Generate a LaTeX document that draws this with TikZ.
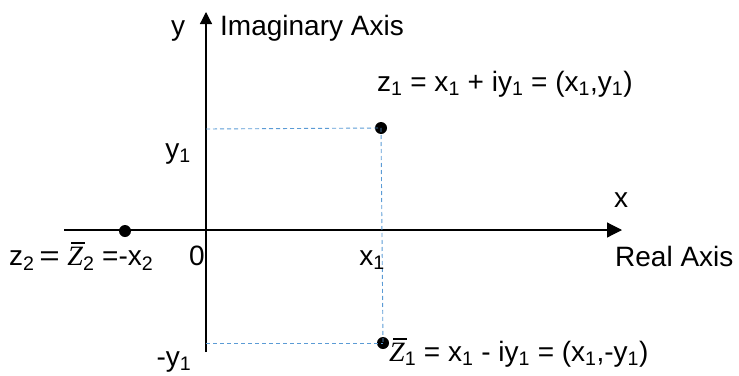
\documentclass[tikz,border=0pt]{standalone}
\usepackage{fontspec}
\setmainfont{Liberation Sans}
\newfontfamily\zfont{Liberation Serif}
\usepackage{xcolor}
\usetikzlibrary{arrows.meta}
\definecolor{dashblue}{RGB}{91,155,213}

\newcommand{\sub}[1]{\textsubscript{#1}}
\newcommand{\zbar}{\makebox[0pt][l]{\hspace{0.14em}\rule[0.76em]{0.5em}{0.05em}}{\zfont\itshape Z}}

\begin{document}
\begin{tikzpicture}[x=1pt,y=-1pt,
  lbl/.style={inner sep=0pt,font=\fontsize{28}{33}\selectfont},
  pt/.style={fill=black,circle,inner sep=0pt,minimum size=12pt},
  axis/.style={line width=1.2pt},
  proj/.style={dashblue,line width=0.9pt,dash pattern=on 4pt off 3pt}]
  \useasboundingbox (0,0) rectangle (739,375);
  % axes
  \coordinate (xs) at (64,230);
  \coordinate (xe) at (622,230);
  \coordinate (ys) at (206,352);
  \coordinate (ye) at (206,12);
  \draw[axis,-{Triangle[length=15pt,width=15pt]}] (xs) -- (xe);
  \draw[axis,-{Triangle[length=12pt,width=12pt]}] (ys) -- (ye);
  % points
  \node[pt] (z1) at (381,128) {};
  \node[pt] (z1c) at (383,343) {};
  \node[pt] (z2) at (125,231) {};
  \coordinate (y1) at (206,129);
  \coordinate (my1) at (206,343);
  \draw[proj] (y1) -- (z1.center);
  \draw[proj] (z1.center) -- (z1c.center);
  \draw[proj] (my1) -- (z1c.center);
  % labels
  \node[lbl,anchor=base] (ylab) at (178,35) {y};
  \node[lbl,anchor=base west] (imag) at (220,35) {Imaginary Axis};
  \node[lbl,anchor=base west] (z1lab) at (377,91) {z\sub{1} = x\sub{1} + iy\sub{1} = (x\sub{1},y\sub{1})};
  \node[lbl,anchor=base] (y1lab) at (178,158) {y\sub{1}};
  \node[lbl,anchor=base] (xlab) at (621,207) {x};
  \node[lbl,anchor=base west] (real) at (615,266) {Real Axis};
  \node[lbl,anchor=base] (zero) at (197,265) {0};
  \node[lbl,anchor=base] (x1lab) at (372,265) {x\sub{1}};
  \node[lbl,anchor=base west] (z2lab) at (9,265) {z\sub{2}\,\scalebox{1.25}[1]{=} \zbar\sub{2} =-x\sub{2}};
  \node[lbl,anchor=base] (my1lab) at (174,366) {-y\sub{1}};
  \node[lbl,anchor=base west] (z1clab) at (389,361) {\zbar\sub{1} = x\sub{1} - iy\sub{1} = (x\sub{1},-y\sub{1})};
\end{tikzpicture}
\end{document}
